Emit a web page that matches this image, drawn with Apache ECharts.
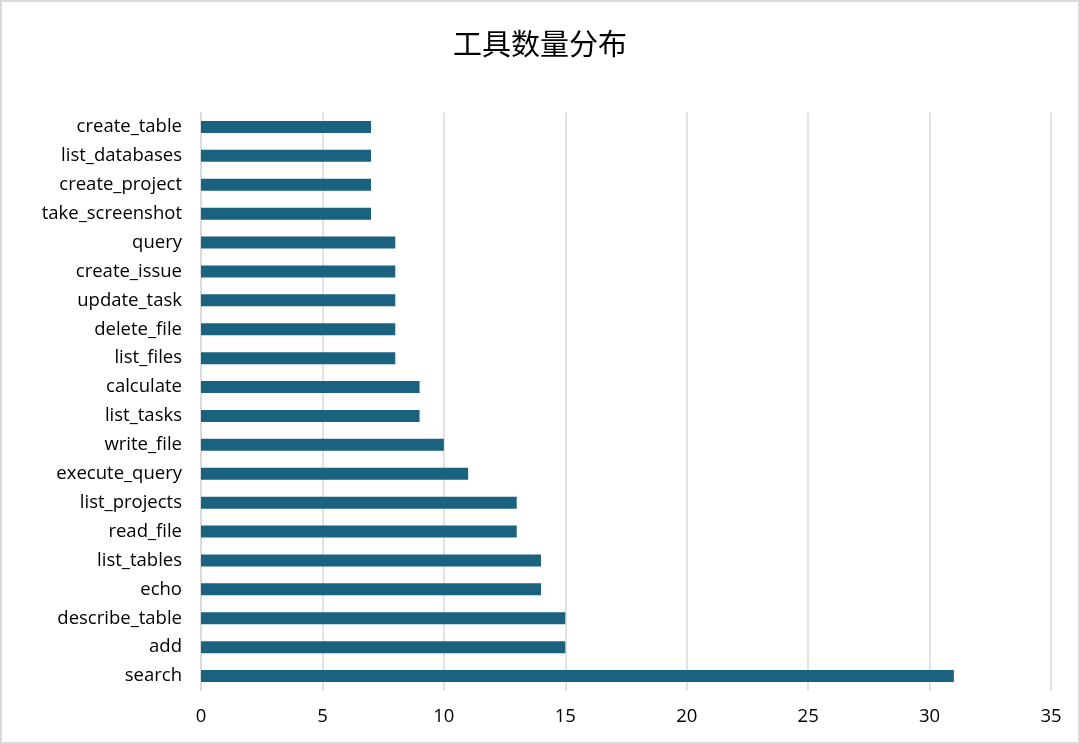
<!DOCTYPE html>
<html><head><meta charset="utf-8">
<script src="https://cdn.jsdelivr.net/npm/echarts@6/dist/echarts.min.js"></script>
<style>html,body{margin:0;padding:0;background:#fff}#c{width:1080px;height:744px}</style>
</head><body><div id="c"></div>
<script>
const titleText = "工具数量分布";
const categories = ["search","add","describe_table","echo","list_tables","read_file","list_projects","execute_query","write_file","list_tasks","calculate","list_files","delete_file","update_task","create_issue","query","take_screenshot","create_project","list_databases","create_table"];
const counts = [31,15,15,14,14,13,13,11,10,9,9,8,8,8,8,8,7,7,7,7];
const xTicks = {min:0, max:35, interval:5};
const titleFont = '"Noto Sans CJK SC",sans-serif';
const font = '"Open Sans","Noto Sans",sans-serif';
const chart = echarts.init(document.getElementById('c'));
chart.setOption({
  animation:false,
  backgroundColor:'#fff',
  title:{text:titleText,left:'center',top:24,textStyle:{fontFamily:titleFont,fontSize:29,fontWeight:'normal',color:'#000'}},
  grid:{left:201,right:29,top:112.5,bottom:53.5,containLabel:false},
  graphic:[{type:'rect',shape:{x:1,y:1,width:1078,height:742},style:{fill:'none',stroke:'#d9d9d9',lineWidth:2},silent:true}],
  xAxis:{type:'value',min:xTicks.min,max:xTicks.max,interval:xTicks.interval,
    axisLine:{show:false},axisTick:{show:false},
    splitLine:{show:true,lineStyle:{color:'#d9d9d9',width:1.5}},
    axisLabel:{fontFamily:font,fontSize:18.5,color:'#000',margin:17}},
  yAxis:{type:'category',data:categories,
    axisLine:{show:true,lineStyle:{color:'#d9d9d9',width:1.5}},axisTick:{show:false},
    axisLabel:{fontFamily:font,fontSize:18.5,color:'#000',margin:19}},
  series:[{type:'bar',data:counts,barWidth:12,itemStyle:{color:'#1b6281'}}]
});
</script></body></html>
